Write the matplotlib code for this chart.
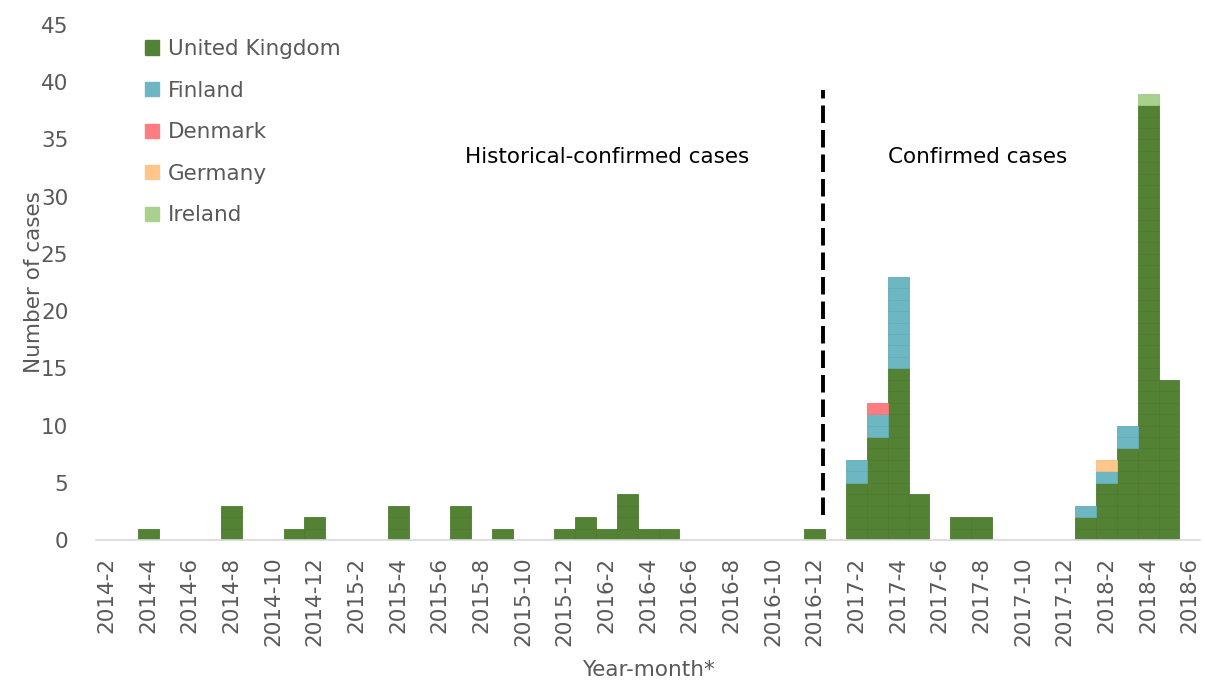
import matplotlib
matplotlib.use("Agg")
import matplotlib.pyplot as plt
from matplotlib.patches import Patch

# month categories 2014-2 .. 2018-6
months = []
for y in range(2014, 2019):
    for m in range(1, 13):
        if (y == 2014 and m < 2) or (y == 2018 and m > 6):
            continue
        months.append(f"{y}-{m}")

uk = {"2014-4": 1, "2014-8": 3, "2014-11": 1, "2014-12": 2, "2015-4": 3,
      "2015-7": 3, "2015-9": 1, "2015-12": 1, "2016-1": 2, "2016-2": 1,
      "2016-3": 4, "2016-4": 1, "2016-5": 1, "2016-12": 1,
      "2017-2": 5, "2017-3": 9, "2017-4": 15, "2017-5": 4, "2017-7": 2,
      "2017-8": 2, "2018-1": 2, "2018-2": 5, "2018-3": 8, "2018-4": 38,
      "2018-5": 14}
finland = {"2017-2": 2, "2017-3": 2, "2017-4": 8, "2018-1": 1, "2018-2": 1,
           "2018-3": 2}
denmark = {"2017-3": 1}
germany = {"2018-2": 1}
ireland = {"2018-4": 1}

series = [
    ("United Kingdom", uk, "#548235", "#4e7b31"),
    ("Finland", finland, "#6cb7c1", "#65acb5"),
    ("Denmark", denmark, "#ff7c80", "#f2767a"),
    ("Germany", germany, "#ffc68a", "#f4bd84"),
    ("Ireland", ireland, "#a9d18e", "#a1c887"),
]

fig = plt.figure(figsize=(12.05, 6.86), dpi=100)
ax = fig.add_axes([0.0797, 0.2128, 0.9163, 0.7508])

xs = list(range(len(months)))
base = [0] * len(months)
for name, data, color, edge in series:
    for i, mo in enumerate(months):
        n = data.get(mo, 0)
        for k in range(n):
            ax.bar(i, 1, bottom=base[i] + k, width=1.0, color=color,
                   edgecolor=edge, linewidth=0.6)
        base[i] += n

ax.set_xlim(-0.5, len(months) - 0.5)
ax.set_ylim(0, 45)
ax.set_yticks(range(0, 46, 5))
ax.set_xticks(xs[::2])
ax.set_xticklabels(months[::2], rotation=90)

fs = 15.5
txt = "#595959"
ax.tick_params(axis="both", length=0, labelsize=fs, labelcolor=txt)
ax.tick_params(axis="x", pad=12)
ax.tick_params(axis="y", pad=20)
for s in ["top", "right", "left"]:
    ax.spines[s].set_visible(False)
ax.spines["bottom"].set_color("#d9d9d9")
ax.spines["bottom"].set_linewidth(1.2)

ax.set_ylabel("Number of cases", fontsize=fs, color=txt, labelpad=-2)
ax.set_xlabel("Year-month*", fontsize=fs, color=txt, labelpad=10)

# divider between historical and confirmed
div = months.index("2016-12") + 0.4
ax.plot([div, div], [2.2, 39.3], color="black", lw=2.8, ls=(0, (4.5, 1.8)))

ax.text(24.05, 33.5, "Historical-confirmed cases", fontsize=fs,
        ha="center", va="center", color="black")
ax.text(41.8, 33.5, "Confirmed cases", fontsize=fs,
        ha="center", va="center", color="black")

handles = [Patch(facecolor=c, edgecolor=c) for _, _, c, _ in series]
ax.legend(handles, [s[0] for s in series], loc="upper left",
          bbox_to_anchor=(0.027, 1.01), frameon=False, fontsize=fs,
          labelcolor=txt, handlelength=0.65, handleheight=0.65,
          handletextpad=0.4, labelspacing=1.0)

fig.savefig("out.png", dpi=100)
